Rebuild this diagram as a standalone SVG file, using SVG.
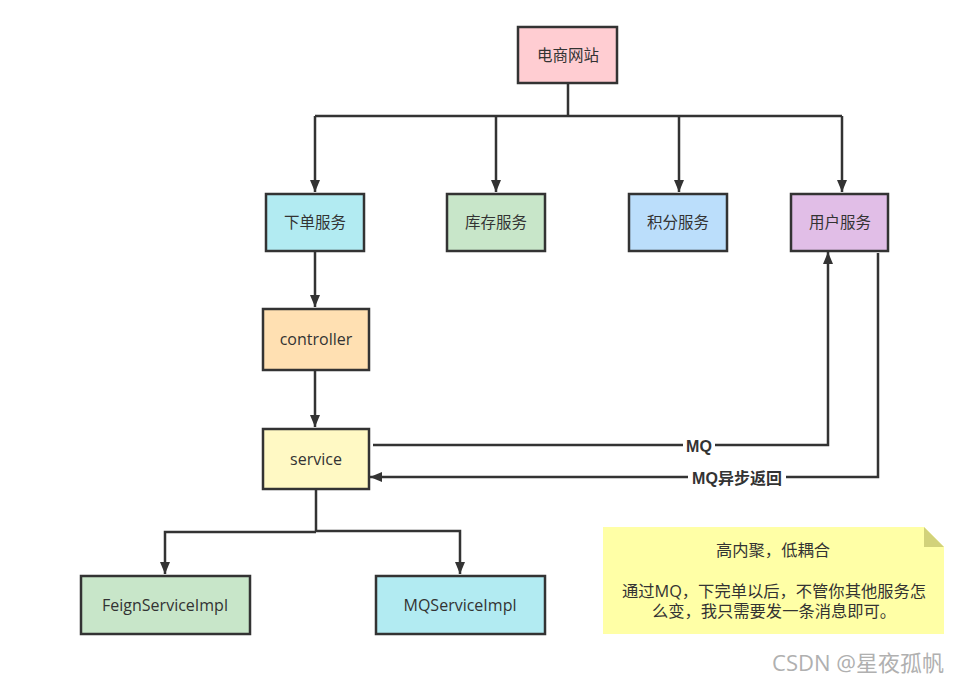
<svg xmlns="http://www.w3.org/2000/svg" width="964" height="682" viewBox="0 0 964 682">
<defs>
<marker id="ah" viewBox="0 0 12 12" refX="12" refY="6" markerWidth="12" markerHeight="12" markerUnits="userSpaceOnUse" orient="auto">
<path d="M0,1 L12,6 L0,11 Z" fill="#333"/>
</marker>
<style>
.box{stroke:#333;stroke-width:2.5}
.t{font-family:"Open Sans","Noto Sans CJK SC",sans-serif;font-size:15.5px;fill:#333;text-anchor:middle;dominant-baseline:central}
.tl{font-size:16px}
.c{fill:none;stroke:#333;stroke-width:2.5}
.lbl{font-family:"Liberation Sans","Noto Sans CJK SC",sans-serif;font-size:16px;font-weight:bold;fill:#333;text-anchor:middle;dominant-baseline:central}
.n{font-family:"Open Sans","Noto Sans CJK SC",sans-serif;font-size:16.3px;fill:#333;text-anchor:middle}
</style>
</defs>
<rect width="964" height="682" fill="#fff"/>
<g id="connectors">
<path class="c" d="M568,83 V116 M315,116 H842"/>
<path class="c" d="M315,116 V192" marker-end="url(#ah)"/>
<path class="c" d="M496,116 V192" marker-end="url(#ah)"/>
<path class="c" d="M679,116 V192" marker-end="url(#ah)"/>
<path class="c" d="M842,116 V192" marker-end="url(#ah)"/>
<path class="c" d="M315,251 V307" marker-end="url(#ah)"/>
<path class="c" d="M315,370 V427" marker-end="url(#ah)"/>
<path class="c" d="M373,445 H828 V252" marker-end="url(#ah)"/>
<path class="c" d="M878,253 V477 H370" marker-end="url(#ah)"/>
<path class="c" d="M316,489 V531"/>
<path class="c" d="M316,532 H165 V574" marker-end="url(#ah)"/>
<path class="c" d="M316,531 H460 V574" marker-end="url(#ah)"/>
<rect x="683" y="436" width="32" height="18" fill="#fff"/>
<text class="lbl" x="699" y="446">MQ</text>
<rect x="688" y="468" width="98" height="18" fill="#fff"/>
<text class="lbl" x="737" y="478">MQ异步返回</text>
</g>
<g id="n-site"><rect class="box" x="518" y="27" width="99" height="56" fill="#FFCDD2"/><text class="t" x="568" y="55">电商网站</text></g>
<g id="n-order"><rect class="box" x="266" y="194" width="98" height="57" fill="#B2EBF2"/><text class="t" x="315" y="222">下单服务</text></g>
<g id="n-stock"><rect class="box" x="447" y="194" width="98" height="57" fill="#C8E6C9"/><text class="t" x="496" y="222">库存服务</text></g>
<g id="n-points"><rect class="box" x="629" y="194" width="98" height="57" fill="#BBDEFB"/><text class="t" x="678" y="222">积分服务</text></g>
<g id="n-user"><rect class="box" x="791" y="194" width="97" height="57" fill="#E1BEE7"/><text class="t" x="840" y="222">用户服务</text></g>
<g id="n-controller"><rect class="box" x="263" y="309" width="106" height="61" fill="#FFE0B2"/><text class="t tl" x="316" y="339">controller</text></g>
<g id="n-service"><rect class="box" x="263" y="429" width="106" height="60" fill="#FFF9C4"/><text class="t tl" x="316" y="459">service</text></g>
<g id="n-feign"><rect class="box" x="81" y="576" width="169" height="58" fill="#C8E6C9"/><text class="t tl" x="165" y="605">FeignServiceImpl</text></g>
<g id="n-mq"><rect class="box" x="376" y="576" width="169" height="58" fill="#B2EBF2"/><text class="t tl" x="460" y="605">MQServiceImpl</text></g>
<g id="note">
<path d="M603,527 H924 L944,547 V634 H603 Z" fill="#FFFFA6"/>
<path d="M924,527 L944,547 H924 Z" fill="#D2D27A"/>
<text class="n" x="773" y="556">高内聚，低耦合</text>
<text class="n" x="774" y="597">通过MQ，下完单以后，不管你其他服务怎</text>
<text class="n" x="774" y="617">么变，我只需要发一条消息即可。</text>
</g>
<text x="858" y="671" font-family="'Open Sans','Noto Sans CJK SC',sans-serif" font-size="22" fill="#b0b0b0" text-anchor="middle">CSDN @星夜孤帆</text>
</svg>
